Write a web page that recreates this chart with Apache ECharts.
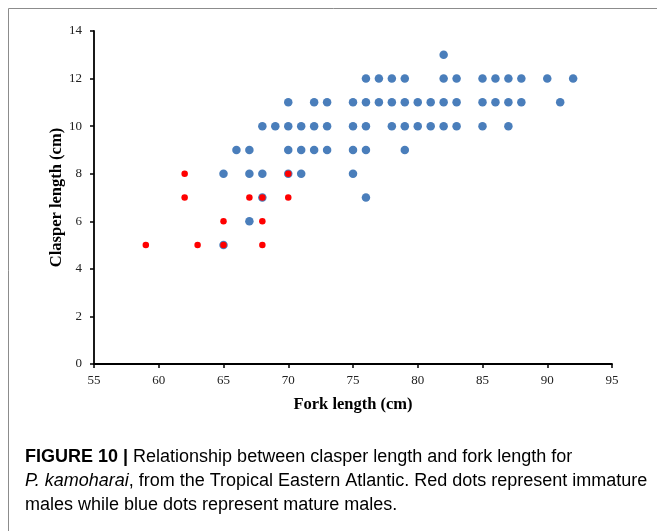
<!DOCTYPE html>
<html>
<head>
<meta charset="utf-8">
<script src="https://cdn.jsdelivr.net/npm/echarts@6/dist/echarts.min.js"></script>
<style>
html,body{margin:0;padding:0;background:#fff;}
#chart{width:657px;height:531px;}
</style>
</head>
<body>
<div id="chart"></div>
<script>
// Mature males (blue): [fork length, clasper length]
const matureMales = [
  [82,13],
  [76,12],[77,12],[78,12],[79,12],[82,12],[83,12],[85,12],[86,12],[87,12],[88,12],[90,12],[92,12],
  [70,11],[72,11],[73,11],[75,11],[76,11],[77,11],[78,11],[79,11],[80,11],[81,11],[82,11],[83,11],[85,11],[86,11],[87,11],[88,11],[91,11],
  [68,10],[69,10],[70,10],[71,10],[72,10],[73,10],[75,10],[76,10],[78,10],[79,10],[80,10],[81,10],[82,10],[83,10],[85,10],[87,10],
  [66,9],[67,9],[70,9],[71,9],[72,9],[73,9],[75,9],[76,9],[79,9],
  [65,8],[67,8],[68,8],[70,8],[71,8],[75,8],
  [68,7],[76,7],
  [67,6],
  [65,5]
];
// Immature males (red)
const immatureMales = [
  [62,8],[70,8],
  [62,7],[67,7],[68,7],[70,7],
  [65,6],[68,6],
  [59,5],[63,5],[65,5],[68,5]
];
const xTicks = {min:55, max:95, interval:5};
const yTicks = {min:0, max:14, interval:2};
const xTitle = 'Fork length (cm)';
const yTitle = 'Clasper length (cm)';
const captionLines = [
  '{b|FIGURE 10 | }{n|Relationship between clasper length and fork length for}',
  '{i|P. kamoharai}{n|, from the Tropical Eastern Atlantic. Red dots represent immature}',
  '{n|males while blue dots represent mature males.}'
];

const chart = echarts.init(document.getElementById('chart'), null, {renderer:'canvas'});
const serif = '"Liberation Serif","Times New Roman",serif';
const sans = '"Liberation Sans",Arial,Helvetica,sans-serif';
const capRich = {
  b:{fontFamily:sans,fontWeight:'bold',fontSize:18,color:'#2b2b2b'},
  n:{fontFamily:sans,fontSize:18,color:'#444'},
  i:{fontFamily:sans,fontStyle:'italic',fontSize:18,color:'#444'}
};
const axisCommon = {
  axisLine:{show:true,onZero:false,lineStyle:{color:'#000',width:1.8}},
  axisTick:{show:true,inside:false,length:4,lineStyle:{color:'#000',width:1.5}},
  splitLine:{show:false},
  axisLabel:{fontFamily:serif,fontSize:13,color:'#222',margin:10},
  nameTextStyle:{fontFamily:serif,fontSize:16.5,fontWeight:'bold',color:'#000'},
  nameMoveOverlap:false
};
chart.setOption({
  backgroundColor:'#fff',
  animation:false,
  grid:{left:94,right:45,top:31,bottom:167,containLabel:false},
  xAxis:Object.assign({}, axisCommon, {
    type:'value', min:xTicks.min, max:xTicks.max, interval:xTicks.interval,
    name:xTitle, nameLocation:'middle', nameGap:32
  }),
  yAxis:Object.assign({}, axisCommon, {
    type:'value', min:yTicks.min, max:yTicks.max, interval:yTicks.interval,
    name:yTitle, nameLocation:'middle', nameGap:29, nameRotate:90,
    axisLabel:Object.assign({}, axisCommon.axisLabel, {margin:12})
  }),
  series:[
    {type:'scatter', name:'Mature', data:matureMales, symbol:'circle', symbolSize:8.5,
     itemStyle:{color:'#4a7ebb',opacity:1}, z:2},
    {type:'scatter', name:'Immature', data:immatureMales, symbol:'circle', symbolSize:6.5,
     itemStyle:{color:'#ff0000',opacity:1}, z:3}
  ],
  graphic:[
    {type:'rect', shape:{x:8.5,y:8.5,width:700,height:600}, style:{fill:'none',stroke:'#8c8c8c',lineWidth:1}, silent:true, z:-1},
    {type:'text', left:25, top:448, style:{text:captionLines[0], rich:capRich}},
    {type:'text', left:25, top:472, style:{text:captionLines[1], rich:capRich}},
    {type:'text', left:25, top:496, style:{text:captionLines[2], rich:capRich}}
  ]
});
</script>
</body>
</html>
